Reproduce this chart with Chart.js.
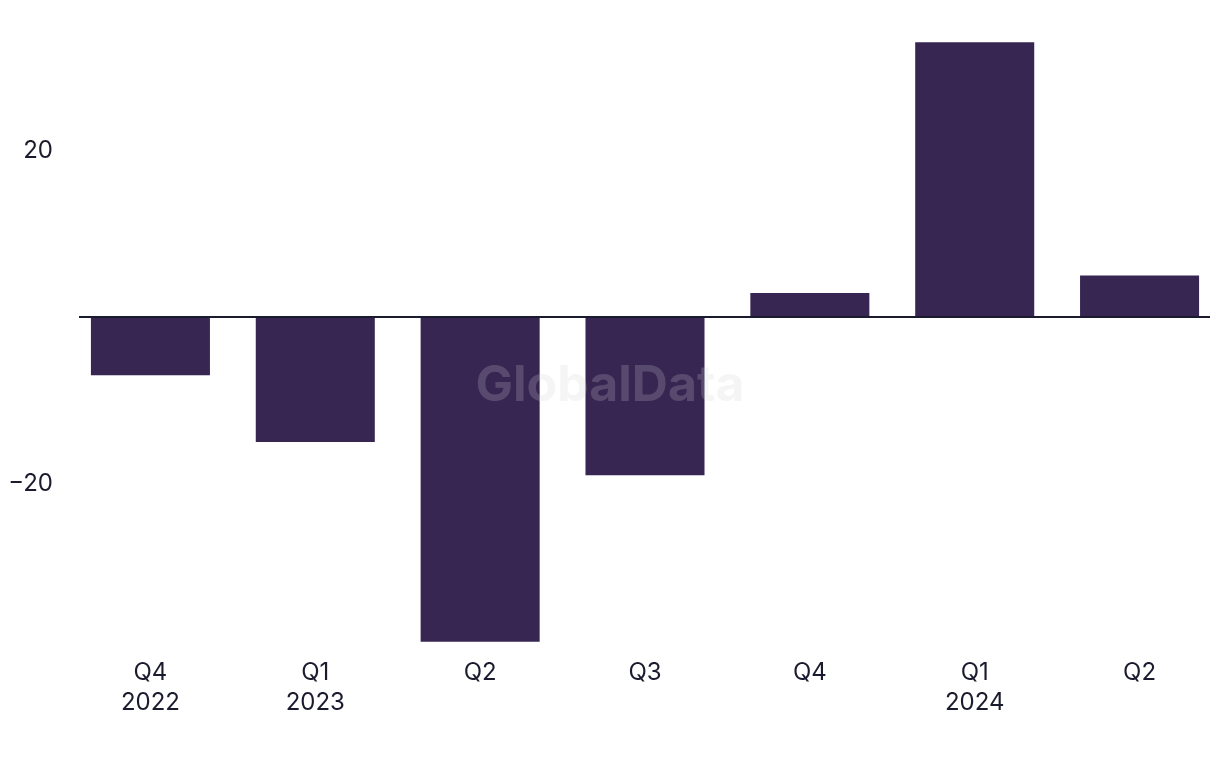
<!DOCTYPE html>
<html>
<head>
<meta charset="utf-8">
<script src="https://cdn.jsdelivr.net/npm/chart.js@4"></script>
<style>
  body { margin: 0; background: #fff; overflow: hidden; }
</style>
</head>
<body>
<canvas id="myChart" width="1222" height="768"></canvas>
<script>
// quarters and values
const quarters = [['Q4', '2022'], ['Q1', '2023'], 'Q2', 'Q3', 'Q4', ['Q1', '2024'], 'Q2'];
const values = [-7, -15, -39, -19, 2.9, 33, 5];
const yTicks = [-20, 20];

const barColor = '#372552';
const textColor = '#1b1b2f';

// zero line + watermark
const extras = {
  id: 'extras',
  afterDatasetsDraw(chart) {
    const ctx = chart.ctx;
    const area = chart.chartArea;
    const y0 = chart.scales.y.getPixelForValue(0);
    ctx.save();
    ctx.strokeStyle = textColor;
    ctx.lineWidth = 2;
    ctx.beginPath();
    ctx.moveTo(area.left + 11, y0);
    ctx.lineTo(area.right - 12, y0);
    ctx.stroke();

    ctx.fillStyle = 'rgba(210,210,210,0.22)';
    ctx.font = 'bold 50px Inter';
    ctx.textAlign = 'center';
    ctx.textBaseline = 'middle';
    ctx.fillText('GlobalData', 610, 386);
    ctx.restore();
  }
};

new Chart('myChart', {
  type: 'bar',
  data: {
    labels: quarters,
    datasets: [{
      data: values,
      backgroundColor: barColor,
      barPercentage: 1,
      categoryPercentage: 0.722
    }]
  },
  options: {
    responsive: false,
    animation: false,
    layout: { padding: { top: 34, right: 0, bottom: 0, left: 0 } },
    plugins: { legend: { display: false }, tooltip: { enabled: false } },
    scales: {
      x: {
        grid: { display: false, tickLength: 0 },
        border: { display: false },
        ticks: {
          color: textColor,
          font: { family: 'Inter', size: 24, lineHeight: 1.25 },
          padding: 8,
          maxRotation: 0
        },
        afterFit(scale) { scale.height = 118; }
      },
      y: {
        min: -40,
        max: 34,
        grid: { display: false, tickLength: 0 },
        border: { display: false },
        afterBuildTicks(scale) {
          scale.ticks = yTicks.map(v => ({ value: v }));
        },
        ticks: {
          color: textColor,
          font: { family: 'Inter', size: 24 },
          padding: 15,
          callback: v => v < 0 ? '\u2212' + Math.abs(v) : String(v)
        },
        afterFit(scale) { scale.width = 68; }
      }
    }
  },
  plugins: [extras]
});
</script>
</body>
</html>
